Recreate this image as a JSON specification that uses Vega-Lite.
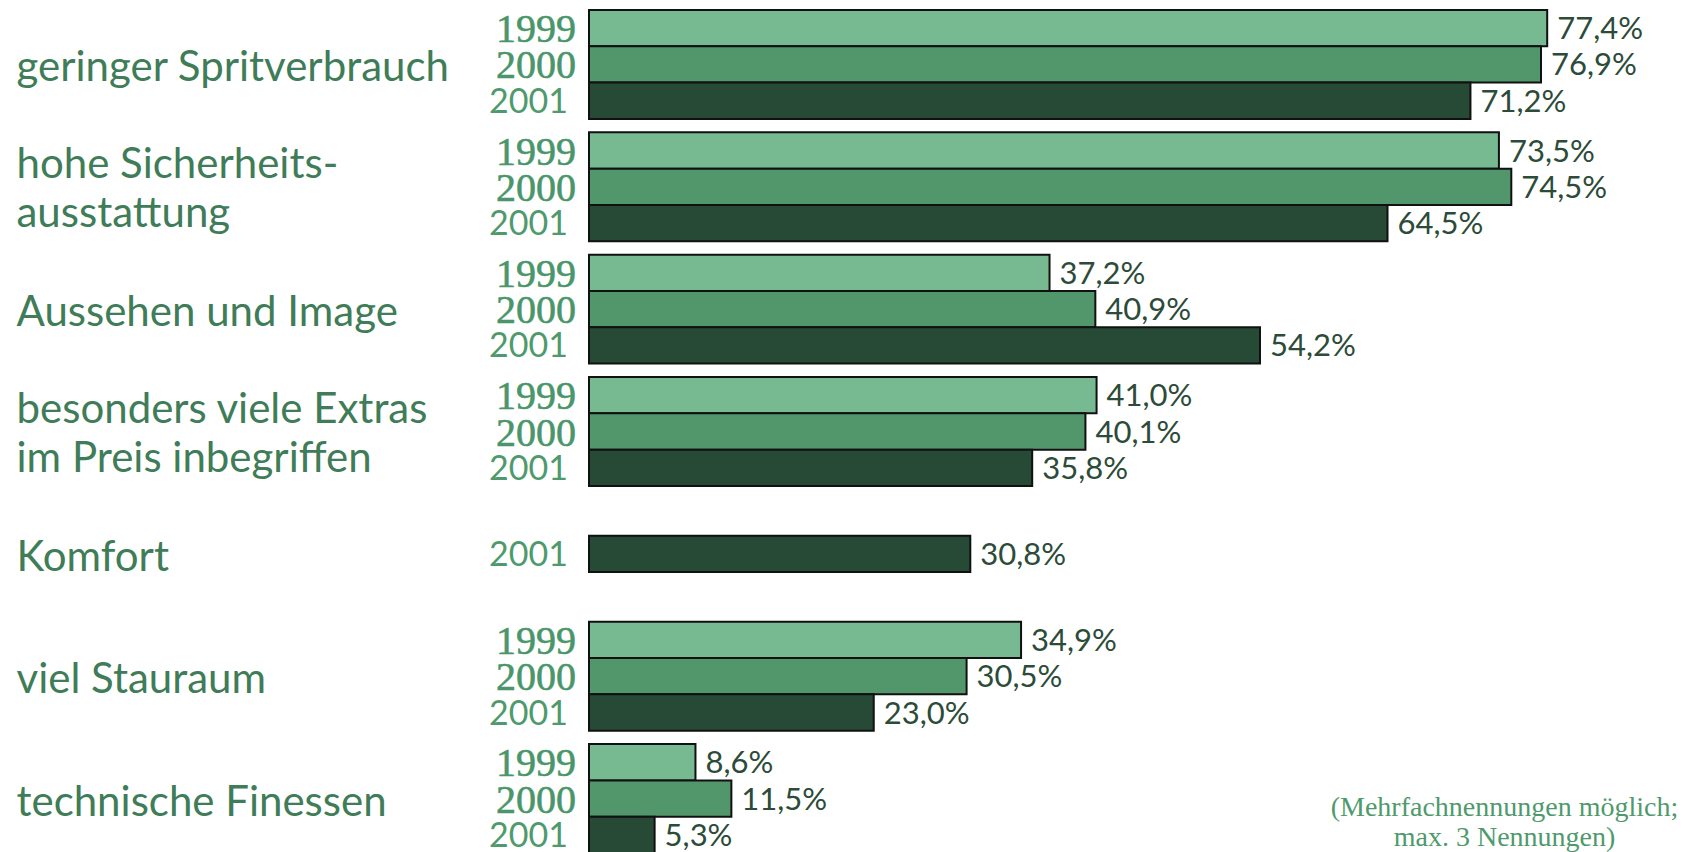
{
  "$schema": "https://vega.github.io/schema/vega-lite/v6.json",
  "width": 1095,
  "height": 843,
  "autosize": {"type": "none"},
  "padding": {"left": 589, "top": 10, "right": 0, "bottom": 0},
  "background": "white",
  "config": {
    "view": {"stroke": null},
    "locale": {"number": {"decimal": ",", "thousands": ".", "grouping": [3], "currency": ["", " €"], "percent": "%"}}
  },
  "data": {
    "values": [
      {"category": "geringer Spritverbrauch", "year": "1999", "share": 0.774},
      {"category": "geringer Spritverbrauch", "year": "2000", "share": 0.769},
      {"category": "geringer Spritverbrauch", "year": "2001", "share": 0.712},
      {"category": "hohe Sicherheitsausstattung", "year": "1999", "share": 0.735},
      {"category": "hohe Sicherheitsausstattung", "year": "2000", "share": 0.745},
      {"category": "hohe Sicherheitsausstattung", "year": "2001", "share": 0.645},
      {"category": "Aussehen und Image", "year": "1999", "share": 0.372},
      {"category": "Aussehen und Image", "year": "2000", "share": 0.409},
      {"category": "Aussehen und Image", "year": "2001", "share": 0.542},
      {"category": "besonders viele Extras im Preis inbegriffen", "year": "1999", "share": 0.410},
      {"category": "besonders viele Extras im Preis inbegriffen", "year": "2000", "share": 0.401},
      {"category": "besonders viele Extras im Preis inbegriffen", "year": "2001", "share": 0.358},
      {"category": "Komfort", "year": "2001", "share": 0.308},
      {"category": "viel Stauraum", "year": "1999", "share": 0.349},
      {"category": "viel Stauraum", "year": "2000", "share": 0.305},
      {"category": "viel Stauraum", "year": "2001", "share": 0.230},
      {"category": "technische Finessen", "year": "1999", "share": 0.086},
      {"category": "technische Finessen", "year": "2000", "share": 0.115},
      {"category": "technische Finessen", "year": "2001", "share": 0.053}
    ]
  },
  "transform": [
    {"calculate": "datum.category === 'Komfort' ? '2000' : datum.year", "as": "slot"}
  ],
  "encoding": {
    "y": {
      "field": "category",
      "type": "nominal",
      "sort": ["geringer Spritverbrauch", "hohe Sicherheitsausstattung", "Aussehen und Image", "besonders viele Extras im Preis inbegriffen", "Komfort", "viel Stauraum", "technische Finessen"],
      "scale": {"paddingInner": 0.11, "paddingOuter": 0},
      "axis": {
        "title": null,
        "domain": false,
        "ticks": false,
        "tickSize": 0,
        "grid": false,
        "labelAlign": "left",
        "labelBaseline": "middle",
        "labelPadding": 573,
        "labelFont": "Lato",
        "labelFontSize": 42,
        "labelColor": "#3f7c58",
        "labelLineHeight": 49,
        "labelLimit": 700,
        "labelOffset": {"condition": {"test": "datum.value === 'hohe Sicherheitsausstattung' || datum.value === 'besonders viele Extras im Preis inbegriffen'", "value": -22}, "value": 4},
        "labelExpr": "datum.value === 'hohe Sicherheitsausstattung' ? ['hohe Sicherheits-', 'ausstattung'] : datum.value === 'besonders viele Extras im Preis inbegriffen' ? ['besonders viele Extras', 'im Preis inbegriffen'] : datum.label"
      }
    },
    "yOffset": {
      "field": "slot",
      "type": "nominal",
      "scale": {"domain": ["1999", "2000", "2001"], "paddingInner": 0, "paddingOuter": 0}
    }
  },
  "layer": [
    {
      "mark": {"type": "bar", "stroke": "#111111", "strokeWidth": 2},
      "encoding": {
        "x": {
          "field": "share",
          "type": "quantitative",
          "scale": {"domain": [0, 0.8845], "nice": false, "zero": true},
          "axis": {
            "labels": false,
            "ticks": false,
            "domain": false,
            "grid": false,
            "title": ["(Mehrfachnennungen möglich;", "max. 3 Nennungen)"],
            "titleFont": "Liberation Serif",
            "titleFontSize": 28,
            "titleFontWeight": "normal",
            "titleColor": "#4e9a6c",
            "titleAlign": "center",
            "titleBaseline": "alphabetic",
            "titleLineHeight": 30,
            "titleX": 915,
            "titleY": -38
          }
        },
        "color": {
          "field": "year",
          "type": "nominal",
          "scale": {"domain": ["1999", "2000", "2001"], "range": ["#77b990", "#52976b", "#264a35"]},
          "legend": null
        }
      }
    },
    {
      "mark": {"type": "text", "align": "left", "baseline": "middle", "dx": 10, "dy": 2, "font": "Lato", "fontSize": 31, "color": "#2c4b39"},
      "encoding": {
        "x": {"field": "share", "type": "quantitative"},
        "text": {"field": "share", "type": "quantitative", "format": ".1%"}
      }
    },
    {
      "transform": [{"filter": "datum.year !== '2001'"}],
      "mark": {"type": "text", "align": "right", "baseline": "middle", "dx": -13, "dy": 2, "font": "Liberation Serif", "fontSize": 40, "fontWeight": "normal", "color": "#4a966a", "stroke": "#4a966a", "strokeWidth": 0.6},
      "encoding": {
        "x": {"datum": 0},
        "text": {"field": "year", "type": "nominal"}
      }
    },
    {
      "transform": [{"filter": "datum.year === '2001'"}],
      "mark": {"type": "text", "align": "right", "baseline": "middle", "dx": -21, "dy": 2, "font": "Lato", "fontSize": 34, "color": "#4e9a6c"},
      "encoding": {
        "x": {"datum": 0},
        "text": {"field": "year", "type": "nominal"}
      }
    }
  ]
}
